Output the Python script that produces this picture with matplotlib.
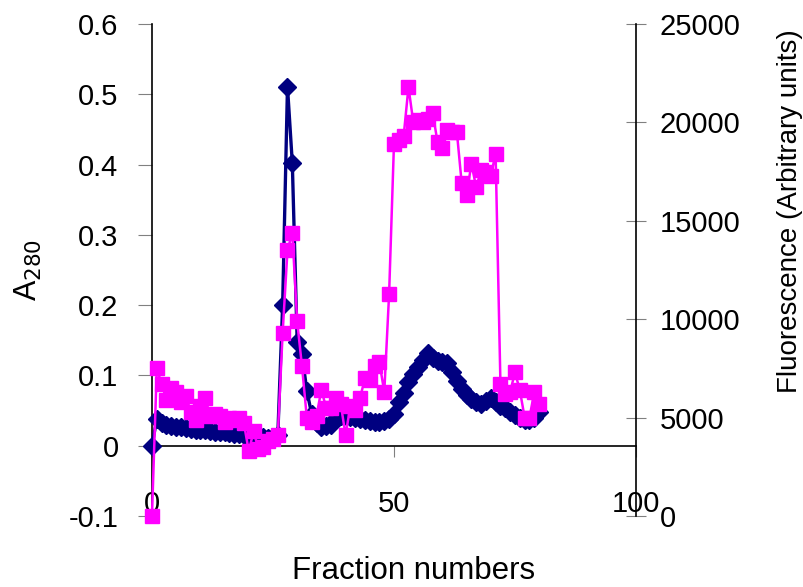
import numpy as np
import matplotlib.pyplot as plt

plt.rcParams['font.family'] = ['Liberation Sans', 'DejaVu Sans']
plt.rcParams['axes.unicode_minus'] = False

fraction = np.arange(0, 81)

a280 = [0.000, 0.038, 0.033, 0.030, 0.028, 0.027, 0.026, 0.025, 0.024, 0.023,
        0.022, 0.022, 0.021, 0.020, 0.019, 0.019, 0.018, 0.017, 0.016, 0.015,
        0.014, 0.013, 0.012, 0.012, 0.011, 0.012, 0.015, 0.200, 0.511, 0.402,
        0.148, 0.130, 0.078, 0.045, 0.032, 0.027, 0.028, 0.030, 0.040, 0.042,
        0.042, 0.041, 0.040, 0.038, 0.037, 0.035, 0.034, 0.034, 0.035, 0.038,
        0.045, 0.062, 0.075, 0.090, 0.102, 0.112, 0.122, 0.132, 0.125, 0.120,
        0.119, 0.118, 0.105, 0.092, 0.080, 0.072, 0.066, 0.062, 0.060, 0.064,
        0.068, 0.062, 0.057, 0.053, 0.048, 0.044, 0.040, 0.037, 0.036, 0.040,
        0.048]

fluor = [0, 7500, 6700, 5900, 6500, 6300, 5800, 6100, 5300, 4900,
         5600, 6000, 5100, 5200, 5100, 4800, 5000, 4900, 5000, 4700,
         3300, 4300, 3400, 3500, 3800, 3900, 4100, 9300, 13500, 14400,
         9900, 7600, 5000, 4800, 5100, 6400, 5500, 5500, 6000, 5700,
         4100, 5600, 5400, 6000, 7000, 6900, 7600, 7800, 6300, 11300,
         18900, 19100, 19300, 21800, 20000, 20100, 20000, 20200, 20500, 19000,
         18700, 19600, 19500, 19500, 16900, 16300, 17900, 16700, 17600, 17500,
         17300, 18400, 6700, 6200, 6300, 7300, 6400, 5000, 5000, 6300,
         5700]

x_ticks = [0, 50, 100]
left_ticks = [-0.1, 0, 0.1, 0.2, 0.3, 0.4, 0.5, 0.6]
left_labels = ['-0.1', '0', '0.1', '0.2', '0.3', '0.4', '0.5', '0.6']
right_ticks = [0, 5000, 10000, 15000, 20000, 25000]

fig = plt.figure(figsize=(8.04, 5.87), dpi=100)
ax = fig.add_axes([0.189, 0.121, 0.602, 0.838])
ax2 = ax.twinx()

ax.plot(fraction, a280, color='#000080', marker='D', markersize=9.5,
        linewidth=2.4, clip_on=False, zorder=3)
ax2.plot(fraction, fluor, color='#FF00FF', marker='s', markersize=10,
         linewidth=1.8, clip_on=False, zorder=3)

ax.set_xlim(0, 100)
ax.set_ylim(-0.1, 0.6)
ax2.set_ylim(0, 25000)

ax.set_xticks(x_ticks)
ax.set_yticks(left_ticks)
ax.set_yticklabels(left_labels)
ax2.set_yticks(right_ticks)

for a in (ax, ax2):
    a.spines['top'].set_visible(False)
ax.spines['right'].set_visible(False)
ax2.spines['left'].set_visible(False)
ax2.spines['bottom'].set_visible(False)
ax.spines['bottom'].set_position(('data', 0))
ax.spines['left'].set_linewidth(1.2)
ax.spines['bottom'].set_linewidth(1.2)
ax2.spines['right'].set_linewidth(1.2)

ax.tick_params(axis='y', direction='out', length=10, color='#808080',
               labelsize=21, pad=14)
ax.tick_params(axis='x', direction='out', length=8, color='#808080',
               labelsize=21, pad=24)
ax2.tick_params(axis='y', direction='inout', length=14, color='#808080',
                labelsize=21, pad=10)

ax.set_ylabel('A$_{280}$', fontsize=22, labelpad=18)
ax2.set_ylabel('Fluorescence (Arbitrary units)', fontsize=20)
ax2.yaxis.set_label_coords(1.292, 0.62)
fig.text(0.514, 0.028, 'Fraction numbers', fontsize=22.5, ha='center', va='center')

fig.savefig('out.png', dpi=100)
